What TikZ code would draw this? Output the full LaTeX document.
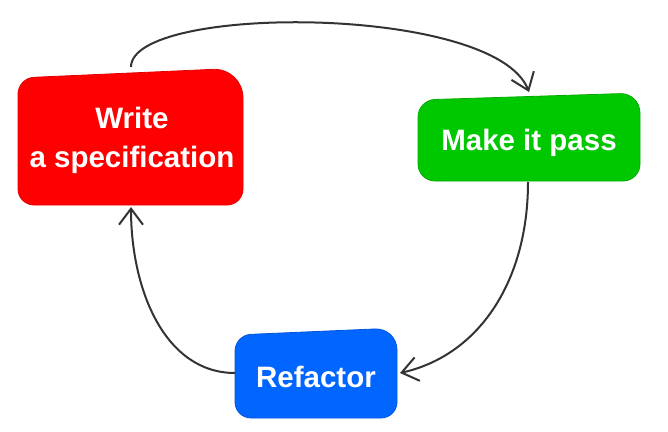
\documentclass[tikz,border=0pt]{standalone}
\usepackage{fontspec}
\setmainfont{Liberation Sans}
\usetikzlibrary{arrows.meta}
\definecolor{redfill}{HTML}{FF0000}
\definecolor{redline}{HTML}{E00000}
\definecolor{greenfill}{HTML}{00C800}
\definecolor{greenline}{HTML}{00AA00}
\definecolor{bluefill}{HTML}{0066FF}
\definecolor{blueline}{HTML}{0055DD}
\definecolor{arrowgray}{HTML}{333333}
\tikzset{
  boxshape/.style={line width=0.8pt},
  label/.style={text=white, font=\bfseries\fontsize{29.5}{39}\selectfont, align=center, inner sep=0pt},
  flow/.style={draw=arrowgray, line width=2pt, -{Straight Barb[length=16pt,width=24pt,line width=2pt]}}
}
\begin{document}
\begin{tikzpicture}[x=1pt,y=-1pt]
\useasboundingbox (0,0) rectangle (668,431);
% red box
\draw[boxshape, fill=redfill, draw=redline, rounded corners=16pt]
  (18,205) -- (18,78) [rounded corners=30pt] -- (243,68) [rounded corners=16pt] -- (243,205) -- cycle;
% green box
\draw[boxshape, fill=greenfill, draw=greenline, rounded corners=17pt]
  (418,181) -- (418,100) [rounded corners=20pt] -- (640,93) [rounded corners=17pt] -- (640,181) -- cycle;
% blue box
\draw[boxshape, fill=bluefill, draw=blueline, rounded corners=16pt]
  (235,418) -- (235,335) [rounded corners=22pt] -- (397,328) [rounded corners=16pt] -- (397,418) -- cycle;
% labels
\node[label, anchor=base] (spec) at (132,167) {Write\\a specification};
\node[label, anchor=base] (pass) at (529,150) {Make it pass};
\node[label, anchor=base] (refac) at (316,387) {Refactor};
% connector end points
\coordinate (spectop) at (131,67);
\coordinate (specbot) at (131,207);
\coordinate (passtop) at (529,92);
\coordinate (passbot) at (528,182);
\coordinate (refacright) at (400,373);
\coordinate (refacleft) at (235,373);
% connectors
\draw[flow] (spectop) .. controls (131,4) and (495,4) .. (passtop);
\draw[flow] (passbot) .. controls (528,280) and (480,355) .. (refacright);
\draw[flow] (refacleft) .. controls (165,373) and (131,290) .. (specbot);
\end{tikzpicture}
\end{document}
